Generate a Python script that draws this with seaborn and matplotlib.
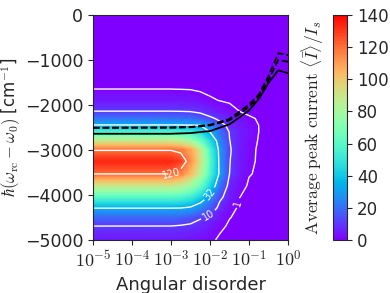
import numpy as np
import matplotlib
matplotlib.use("Agg")
import matplotlib.pyplot as plt
import seaborn as sns
from matplotlib.ticker import FuncFormatter, NullLocator

# grid: columns = log10(angular disorder), rows = detuning
log_disorder = [-5, -3, -2.75, -2.5, -2.25, -2, -1.75, -1.5, -1.25, -1, -0.75, -0.5, 0]
detuning = [0, -1400, -1650, -1900, -2150, -2300, -2450, -2600, -2800,
            -3000, -3250, -3530, -3800, -4050, -4290, -4500, -4690, -5000]
peak_current = [
    [0, 0, 0, 0, 0, 0, 0, 0, 0, 0, 0, 0, 0],
    [0.4, 0.4, 0.38, 0.35, 0.25, 0.15, 0.1, 0.05, 0, 0, 0, 0, 0],
    [1.01, 1.01, 0.98, 0.9, 0.6, 0.35, 0.2, 0.1, 0.05, 0, 0, 0, 0],
    [4, 4, 3.8, 3.3, 2.4, 1.4, 0.9, 0.6, 0.25, 0.1, 0.05, 0, 0],
    [10.3, 10.3, 10.2, 10.05, 8.5, 6.3, 4.0, 2.2, 1.05, 0.4, 0.15, 0.05, 0],
    [20, 20, 19.7, 19, 16, 11.5, 8, 5, 3, 1.45, 0.65, 0.3, 0.02],
    [32.5, 32.5, 32.4, 32.2, 31.8, 25, 13, 7, 4.5, 2.4, 0.98, 0.35, 0.02],
    [55, 55, 54, 51, 44, 32, 19, 9.5, 5, 2.6, 1.0, 0.4, 0.03],
    [88, 88, 85, 78, 63, 44, 24, 10.2, 5, 2.0, 0.8, 0.3, 0.02],
    [119.5, 119.5, 117, 108, 88, 55, 27, 10.8, 4.8, 1.7, 0.6, 0.25, 0.02],
    [133, 133, 128, 112, 90, 58, 28, 10.3, 4.5, 1.6, 0.55, 0.2, 0.02],
    [120.3, 120.3, 115, 103, 83, 55, 29, 10, 4.2, 1.2, 0.45, 0.15, 0.01],
    [88, 88, 85, 77, 63, 42, 20, 6, 2.2, 0.5, 0.2, 0.08, 0],
    [58, 58, 56, 51, 41, 27, 12, 4.5, 1.05, 0.3, 0.1, 0.03, 0],
    [32.2, 32.2, 32, 30, 24, 15.5, 7, 2, 0.5, 0.15, 0.05, 0, 0],
    [18, 18, 17, 15, 11, 7.5, 3.5, 1.1, 0.3, 0.08, 0, 0, 0],
    [10.02, 10.0, 9.3, 8.3, 6.3, 4, 1.5, 0.6, 0.15, 0.03, 0, 0, 0],
    [4, 3.9, 3.6, 3.1, 2.3, 1.4, 0.6, 0.2, 0.05, 0, 0, 0, 0],
]

# black reference curves
line_log_disorder = [-5, -3, -2.5, -2, -1.5, -1.25, -1, -0.75, -0.5, -0.25, 0]
line_upper = [-2505, -2500, -2490, -2440, -2310, -2150, -1990, -1770, -1360, -851, -889]
line_middle = [-2510, -2505, -2495, -2455, -2340, -2200, -2040, -1820, -1440, -1000, -1040]
line_lower = [-2640, -2640, -2625, -2580, -2430, -2280, -2120, -1870, -1510, -1230, -1296]

contour_levels = [1, 10, 32, 120]
cbar_ticks = [0, 20, 40, 60, 80, 100, 120, 140]

sns.set_style("ticks")
plt.rcParams['font.family'] = ['DejaVu Sans']
plt.rcParams['mathtext.fontset'] = 'cm'
plt.rcParams['axes.unicode_minus'] = True

fig = plt.figure(figsize=(3.9, 2.93), dpi=100)
ax = fig.add_axes([0.2385, 0.181, 0.5, 0.768])
cax = fig.add_axes([0.854, 0.181, 0.036, 0.768])

X = 10 ** np.array(log_disorder, dtype=float)
Y = np.array(detuning, dtype=float)[::-1]
Z = np.array(peak_current, dtype=float)[::-1]

cmap = sns.color_palette("rainbow", as_cmap=True)
ax.set_xscale('log')
cf = ax.contourf(X, Y, Z, levels=np.linspace(0, 140, 141), cmap=cmap, vmin=0, vmax=140)
cs = ax.contour(X, Y, Z, levels=contour_levels, colors='white', linewidths=1.0)
ax.clabel(cs, fmt='%d', fontsize=7, inline=True, inline_spacing=2,
          manual=[(10 ** -3.0, -3520), (10 ** -2.08, -3933),
                  (10 ** -2.05, -4444), (10 ** -1.28, -4178)])

lx = 10 ** np.array(line_log_disorder, dtype=float)
sns.lineplot(x=lx, y=line_upper, ax=ax, color='black', lw=1.3, linestyle='--',
             sort=False, estimator=None, zorder=5)
sns.lineplot(x=lx, y=line_middle, ax=ax, color='black', lw=1.3, linestyle='--',
             sort=False, estimator=None, zorder=5)
sns.lineplot(x=lx, y=line_lower, ax=ax, color='black', lw=1.3, linestyle='-',
             sort=False, estimator=None, zorder=5)

ax.set_xlim(1e-5, 1)
ax.set_ylim(-5000, 0)
ax.set_xticks([1e-5, 1e-4, 1e-3, 1e-2, 1e-1, 1])
ax.xaxis.set_major_formatter(FuncFormatter(lambda v, _: r'$10^{%d}$' % round(np.log10(v))))
ax.xaxis.set_minor_locator(NullLocator())
ax.set_yticks([0, -1000, -2000, -3000, -4000, -5000])
ax.tick_params(axis='y', labelsize=12.5)
ax.tick_params(axis='x', labelsize=13)
ax.set_xlabel('Angular disorder', fontsize=13)
ax.set_ylabel(r'$\hbar(\omega_{\rm rc}-\omega_0)$ [cm$^{-1}$]', fontsize=12, labelpad=1)

cbar = fig.colorbar(cf, cax=cax, ticks=cbar_ticks)
cbar.ax.tick_params(labelsize=12)
cbar.set_label(r'$\mathrm{Average\ peak\ current}\ \langle\bar{I}\rangle/I_s$',
               fontsize=12.5, labelpad=5)
cbar.ax.yaxis.set_label_position('left')

fig.savefig('out.png', dpi=100)
